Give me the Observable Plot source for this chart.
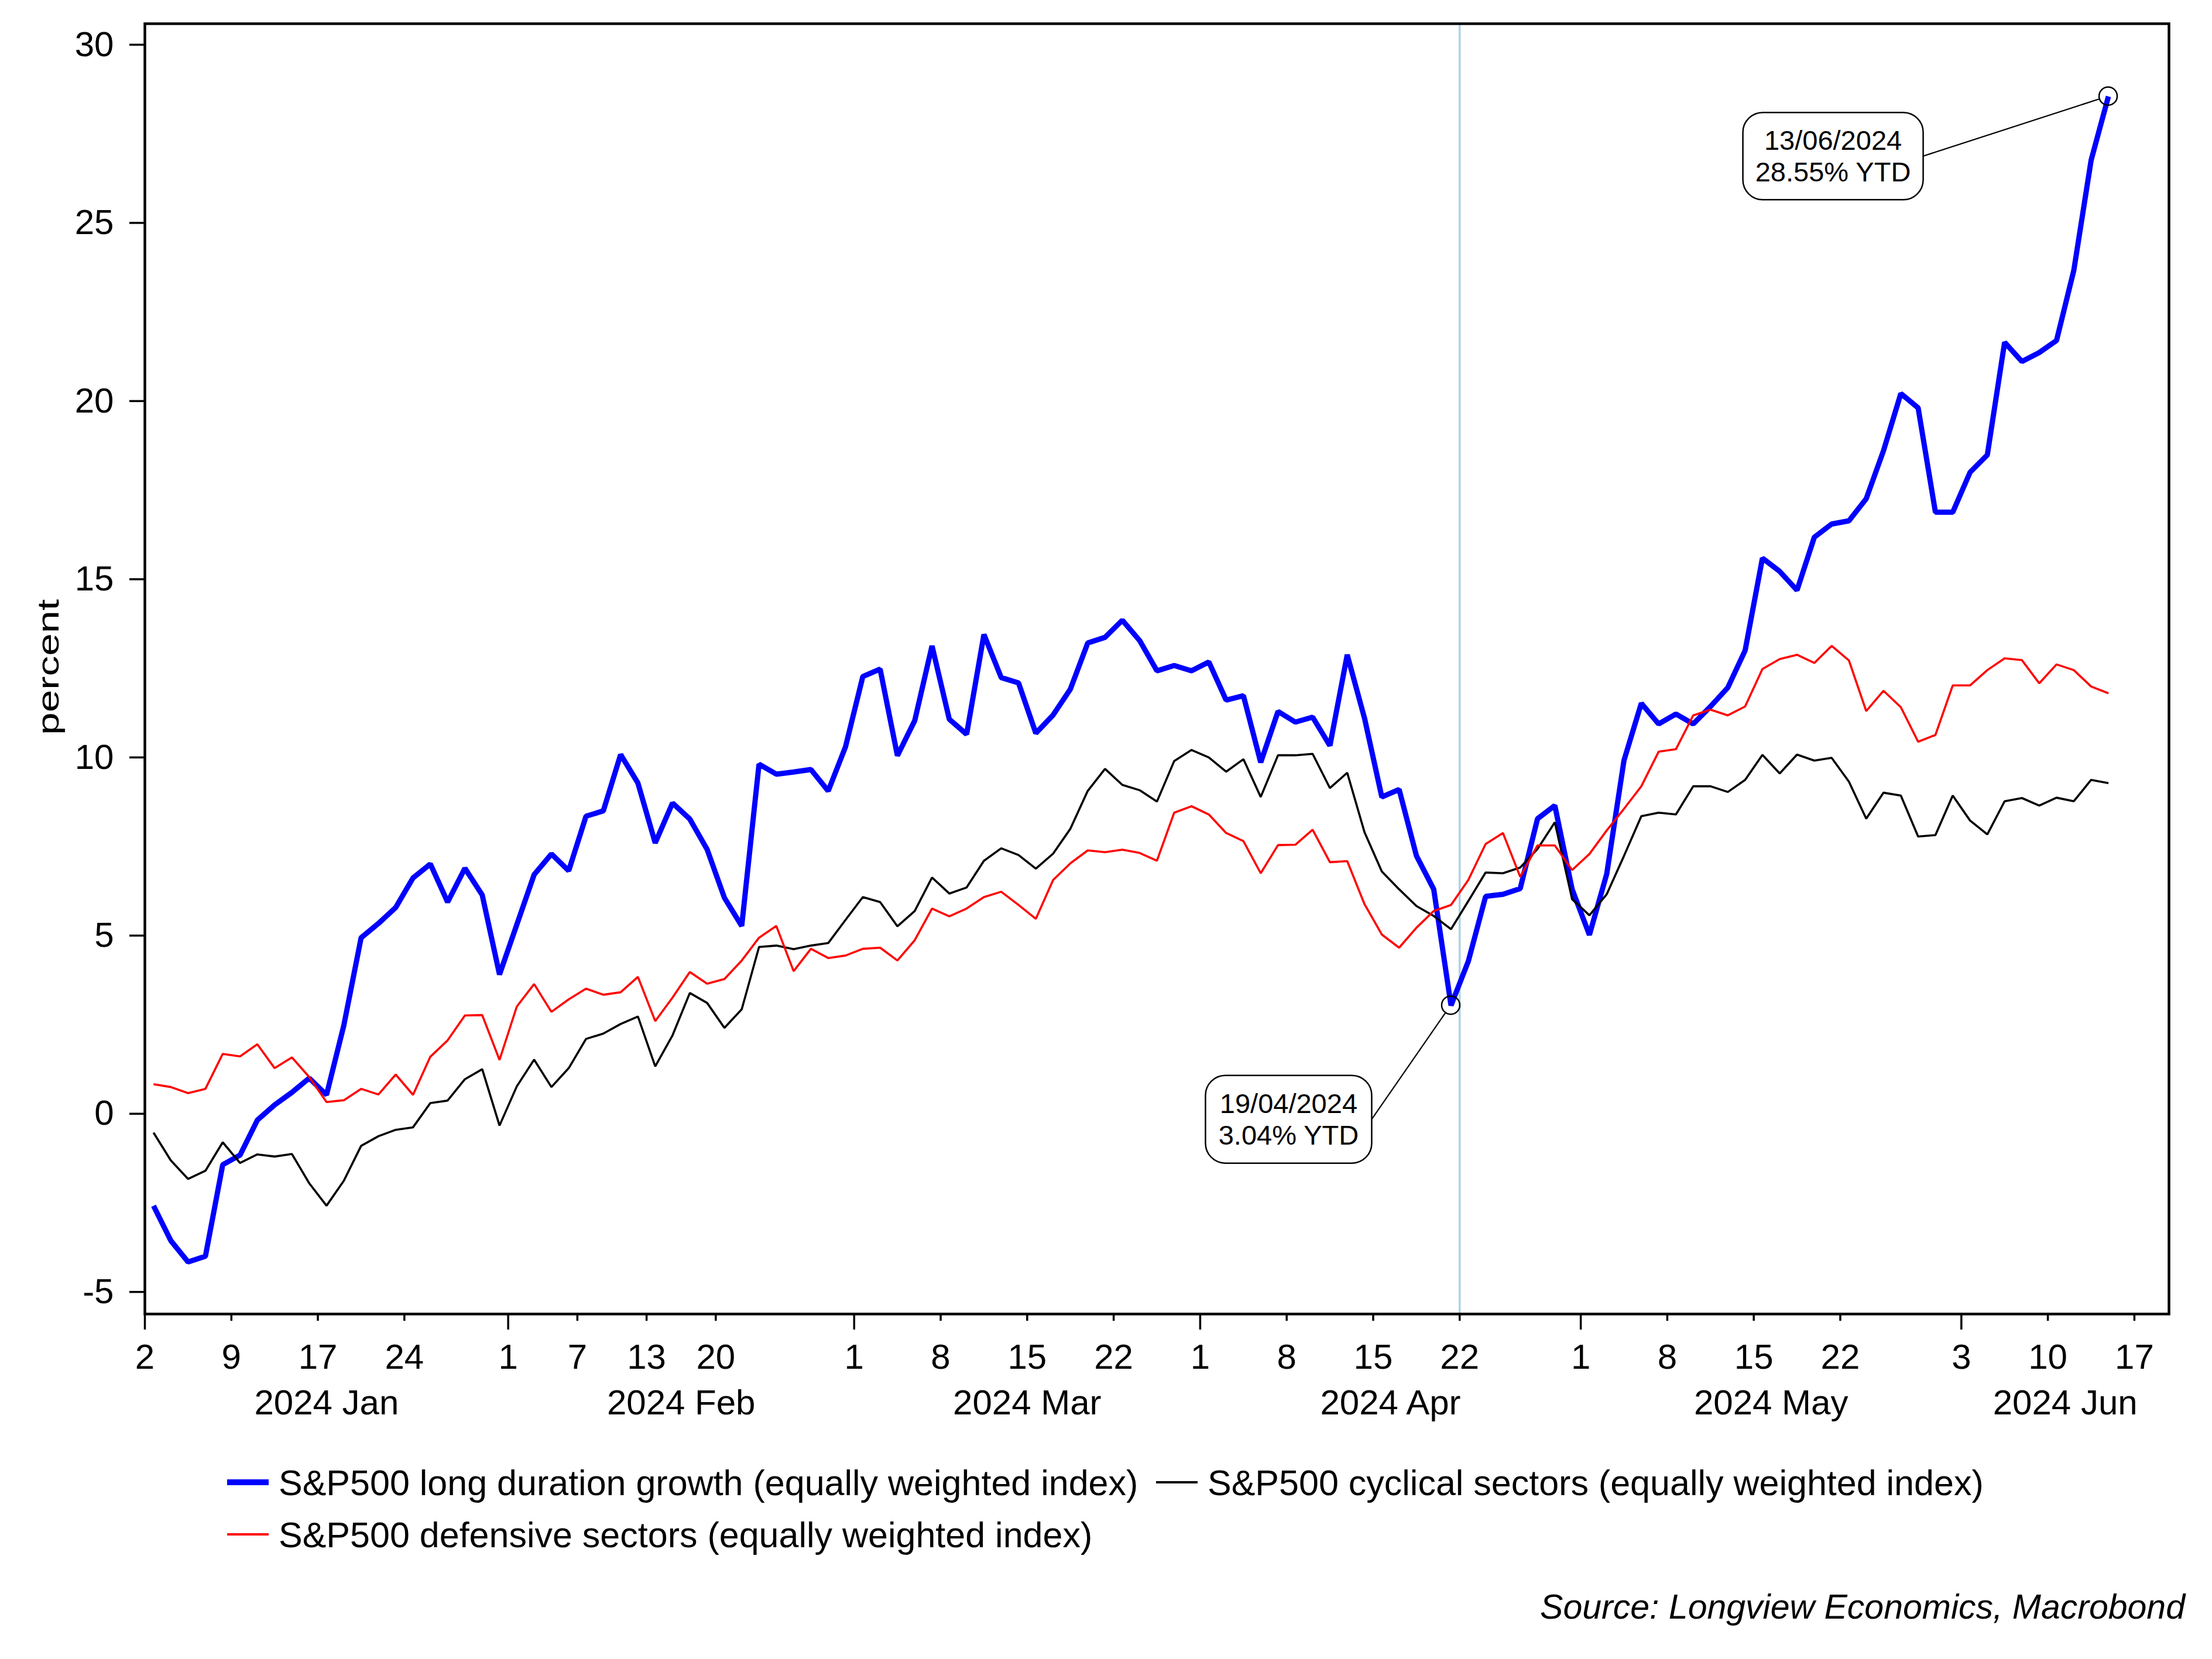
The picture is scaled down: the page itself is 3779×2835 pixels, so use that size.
<!DOCTYPE html>
<html>
<head>
<meta charset="utf-8">
<script src="https://cdn.jsdelivr.net/npm/d3@7"></script>
<script src="https://cdn.jsdelivr.net/npm/@observablehq/plot@0.6"></script>
<style>
  body { margin: 0; background: #fff; }
  #wrap { position: relative; width: 3779px; height: 2835px; overflow: hidden; background: #fff;
          font-family: Arial, "Liberation Sans", sans-serif; color: #000; }
  #chart { position: absolute; left: 0; top: 0; }
  .leg { position: absolute; font-size: 61px; line-height: 60px; white-space: nowrap; }
  .sw { position: absolute; }
  #source { position: absolute; font-size: 59px; line-height: 60px; font-style: italic; white-space: nowrap; }
</style>
</head>
<body>
<div id="wrap"><div id="chart"></div></div>
<script>
// ---------------- DATA ----------------
// trading days per month (2024)
const jan = [2,3,4,5,8,9,10,11,12,16,17,18,19,22,23,24,25,26,29,30,31];
const feb = [1,2,5,6,7,8,9,12,13,14,15,16,20,21,22,23,26,27,28,29];
const mar = [1,4,5,6,7,8,11,12,13,14,15,18,19,20,21,22,25,26,27,28];
const apr = [1,2,3,4,5,8,9,10,11,12,15,16,17,18,19,22,23,24,25,26,29,30];
const may = [1,2,3,6,7,8,9,10,13,14,15,16,17,20,21,22,23,24,28,29,30,31];
const jun = [3,4,5,6,7,10,11,12,13];
const monthKeys = ["2024-01","2024-02","2024-03","2024-04","2024-05","2024-06"];
const monthLabels = ["2024 Jan","2024 Feb","2024 Mar","2024 Apr","2024 May","2024 Jun"];
const axisExtraDays = ["2024-06-14","2024-06-17","2024-06-18","2024-06-20"];

const seriesNames = [
  "S&P500 long duration growth (equally weighted index)",
  "S&P500 cyclical sectors (equally weighted index)",
  "S&P500 defensive sectors (equally weighted index)"
];
const seriesColors = ["#0000ff", "#000000", "#ff0000"];

const growth = [
  -2.58,-3.56,-4.16,-4.00,-1.43,-1.16,-0.18,0.25,0.60,1.00,
  0.53,2.48,4.94,5.34,5.79,6.62,7.01,5.94,6.89,6.14,
  3.91,5.31,6.71,7.29,6.82,8.35,8.50,10.08,9.28,7.60,
  8.72,8.27,7.42,6.06,5.27,9.81,9.53,9.59,9.66,9.06,
  10.30,12.27,12.48,10.05,11.03,13.13,11.07,10.65,13.45,12.24,
  12.09,10.68,11.19,11.92,13.21,13.37,13.85,13.28,12.43,12.58,
  12.43,12.68,11.61,11.73,9.86,11.29,10.99,11.13,10.33,12.88,
  11.10,8.89,9.10,7.24,6.30,3.04,4.28,6.10,6.16,6.32,
  8.28,8.65,6.30,5.02,6.73,9.92,11.52,10.94,11.22,10.94,
  11.43,11.96,13.00,15.59,15.22,14.69,16.18,16.55,16.64,17.26,
  18.61,20.21,19.81,16.88,16.88,18.00,18.49,21.65,21.11,21.36,
  21.70,23.67,26.76,28.55
];
const cyclical = [
  -0.53,-1.31,-1.83,-1.60,-0.80,-1.38,-1.14,-1.20,-1.13,-1.95,
  -2.58,-1.88,-0.90,-0.63,-0.45,-0.38,0.30,0.37,0.97,1.25,
  -0.33,0.77,1.52,0.75,1.28,2.10,2.25,2.52,2.73,1.33,
  2.20,3.39,3.11,2.41,2.93,4.68,4.72,4.62,4.72,4.79,
  5.44,6.08,5.94,5.26,5.69,6.63,6.18,6.35,7.10,7.45,
  7.26,6.88,7.30,8.00,9.06,9.68,9.23,9.08,8.76,9.90,
  10.21,10.00,9.60,9.95,8.89,10.06,10.06,10.10,9.14,9.57,
  7.90,6.80,6.30,5.83,5.55,5.18,5.97,6.77,6.75,6.91,
  7.43,8.18,6.02,5.57,6.16,7.24,8.35,8.45,8.40,9.19,
  9.19,9.03,9.37,10.07,9.55,10.08,9.91,9.99,9.32,8.28,
  9.01,8.93,7.78,7.82,8.93,8.23,7.84,8.77,8.86,8.65,
  8.87,8.77,9.37,9.28
];
const defensive = [
  0.83,0.75,0.58,0.70,1.68,1.61,1.95,1.28,1.58,1.03,
  0.33,0.38,0.70,0.54,1.10,0.53,1.60,2.06,2.76,2.77,
  1.51,3.01,3.64,2.86,3.21,3.51,3.34,3.41,3.84,2.60,
  3.26,3.98,3.65,3.78,4.30,4.94,5.27,4.00,4.63,4.37,
  4.44,4.63,4.66,4.30,4.87,5.76,5.54,5.76,6.08,6.23,
  5.86,5.47,6.56,7.03,7.39,7.34,7.41,7.32,7.10,8.45,
  8.63,8.40,7.88,7.65,6.75,7.54,7.55,7.97,7.06,7.09,
  5.88,5.03,4.66,5.22,5.69,5.86,6.56,7.57,7.88,6.65,
  7.53,7.53,6.84,7.29,7.95,8.56,9.19,10.16,10.23,11.18,
  11.34,11.18,11.43,12.48,12.76,12.88,12.65,13.13,12.72,11.30,
  11.87,11.41,10.44,10.63,12.02,12.02,12.45,12.78,12.73,12.08,
  12.61,12.45,11.99,11.80
];

const tickDates = ["2024-01-02","2024-01-09","2024-01-17","2024-01-24","2024-02-01","2024-02-07",
  "2024-02-13","2024-02-20","2024-03-01","2024-03-08","2024-03-15","2024-03-22","2024-04-01",
  "2024-04-08","2024-04-15","2024-04-22","2024-05-01","2024-05-08","2024-05-15","2024-05-22",
  "2024-06-03","2024-06-10","2024-06-17"];
const yTicks = [-5, 0, 5, 10, 15, 20, 25, 30];
const markerDate = "2024-04-22";
const annotatedDates = ["2024-04-19", "2024-06-13"];

// ---------------- LAYOUT / STYLE ----------------
const W = 3779, H = 2440;
const M = {left: 247, right: 74, top: 40, bottom: 195};
const yDomain = [-5.62, 30.59];
const boxes = [  // pixel offsets of annotation boxes relative to annotated point
  {dx: -419, dy: 120, w: 284, h: 150},
  {dx: -624, dy: 28, w: 308, h: 149}
];
const legendLayout = [
  {x: 388, y: 2533, th: 10}, {x: 1975, y: 2533, th: 4}, {x: 388, y: 2622, th: 4.5}
];
const lineWidths = [9, 3.6, 3.6];

// ---------------- DERIVED ----------------
const monthDays = [jan, feb, mar, apr, may, jun];
const pad = n => String(n).padStart(2, "0");
const dates = monthKeys.flatMap((k, m) => monthDays[m].map(d => `${k}-${pad(d)}`));
const calendar = dates.concat(axisExtraDays);
const idx = d => calendar.indexOf(d);
const xEnd = calendar.length - 1;

const rows = dates.map((d, i) => ({date: d, t: i + 0.5, growth: growth[i], cyclical: cyclical[i], defensive: defensive[i]}));

const monthStart = monthKeys.map(k => calendar.findIndex(d => d.startsWith(k)));
const monthCenters = monthStart.map((s, m) => (s + (m < monthStart.length - 1 ? monthStart[m + 1] : xEnd)) / 2);
const tickIdx = tickDates.map(idx);
const longTicks = tickIdx.filter(i => monthStart.includes(i));
const shortTicks = tickIdx.filter(i => !monthStart.includes(i));
const dayLabel = i => String(+calendar[i].slice(8));
const monthLabelOf = c => monthLabels[monthCenters.indexOf(c)];

const plot = Plot.plot({
  width: W, height: H,
  marginLeft: M.left, marginRight: M.right, marginTop: M.top, marginBottom: M.bottom,
  style: {fontFamily: 'Arial, "Liberation Sans", sans-serif', fontSize: "60px", background: "#fff", color: "#000"},
  x: {domain: [0, xEnd], label: null},
  y: {domain: yDomain, label: null},
  marks: [
    Plot.ruleX([idx(markerDate)], {stroke: "#a9d3e7", strokeWidth: 3.5}),
    Plot.line(rows, {x: "t", y: "growth", stroke: seriesColors[0], strokeWidth: lineWidths[0], strokeLinejoin: "miter", strokeLinecap: "butt"}),
    Plot.line(rows, {x: "t", y: "cyclical", stroke: seriesColors[1], strokeWidth: lineWidths[1], strokeLinejoin: "miter", strokeLinecap: "butt"}),
    Plot.line(rows, {x: "t", y: "defensive", stroke: seriesColors[2], strokeWidth: lineWidths[2], strokeLinejoin: "miter", strokeLinecap: "butt"}),
    Plot.frame({stroke: "#000", strokeWidth: 4.5}),
    Plot.axisY(yTicks, {tickSize: 26, tickPadding: 27, strokeWidth: 3.5, tickFormat: d => String(d), label: null}),
    Plot.axisX(shortTicks, {tickSize: 12, tickPadding: 39, strokeWidth: 3.5, tickFormat: dayLabel, label: null}),
    Plot.axisX(longTicks, {tickSize: 27, tickPadding: 24, strokeWidth: 3.5, tickFormat: dayLabel, label: null}),
    Plot.axisX(monthCenters, {tickSize: 0, tickPadding: 129, tickFormat: monthLabelOf, label: null})
  ]
});
document.getElementById("chart").appendChild(plot);

// ---------------- ANNOTATIONS ----------------
const sx = plot.scale("x"), sy = plot.scale("y");
const svg = d3.select(plot);
const fmtDate = d => `${d.slice(8,10)}/${d.slice(5,7)}/${d.slice(0,4)}`;
annotatedDates.forEach((d, k) => {
  const i = dates.indexOf(d);
  const v = growth[i];
  const px = sx.apply(i + 0.5), py = sy.apply(v);
  const b = boxes[k];
  const bx = px + b.dx, by = py + b.dy;
  const ex = bx + b.w, ey = by + b.h / 2;
  const r = 15.5;
  const ang = Math.atan2(ey - py, ex - px);
  const g = svg.append("g");
  g.append("line").attr("x1", px + r * Math.cos(ang)).attr("y1", py + r * Math.sin(ang))
    .attr("x2", ex).attr("y2", ey).attr("stroke", "#000").attr("stroke-width", 2.2);
  g.append("circle").attr("cx", px).attr("cy", py).attr("r", r)
    .attr("fill", "none").attr("stroke", "#000").attr("stroke-width", 2.5);
  g.append("rect").attr("x", bx).attr("y", by).attr("width", b.w).attr("height", b.h)
    .attr("rx", 34).attr("ry", 34).attr("fill", "#fff").attr("stroke", "#000").attr("stroke-width", 2.5);
  const lines = [fmtDate(d), `${v.toFixed(2)}% YTD`];
  lines.forEach((t, j) => {
    g.append("text").attr("x", bx + b.w / 2).attr("y", by + 64 + j * 54)
      .attr("text-anchor", "middle").attr("font-size", 47).attr("fill", "#000").text(t);
  });
});

// y-axis title
svg.append("text").attr("transform", "translate(100,1140) rotate(-90)")
  .attr("text-anchor", "middle").attr("font-size", 52)
  .attr("textLength", 232).attr("lengthAdjust", "spacingAndGlyphs").text("percent");

// ---------------- LEGEND & SOURCE ----------------
const wrap = document.getElementById("wrap");
seriesNames.forEach((name, k) => {
  const L = legendLayout[k];
  const sw = document.createElement("div");
  sw.className = "sw";
  sw.style.left = L.x + "px"; sw.style.top = (L.y - L.th / 2) + "px";
  sw.style.width = "71px"; sw.style.height = L.th + "px"; sw.style.background = seriesColors[k];
  wrap.appendChild(sw);
  const tx = document.createElement("div");
  tx.className = "leg";
  tx.style.left = (L.x + 88) + "px"; tx.style.top = (L.y + 22 - 51) + "px";
  tx.textContent = name;
  wrap.appendChild(tx);
});
const src = document.createElement("div");
src.id = "source";
src.style.right = "46px"; src.style.top = (2767 - 51) + "px";
src.textContent = "Source: Longview Economics, Macrobond";
wrap.appendChild(src);
</script>
</body>
</html>
